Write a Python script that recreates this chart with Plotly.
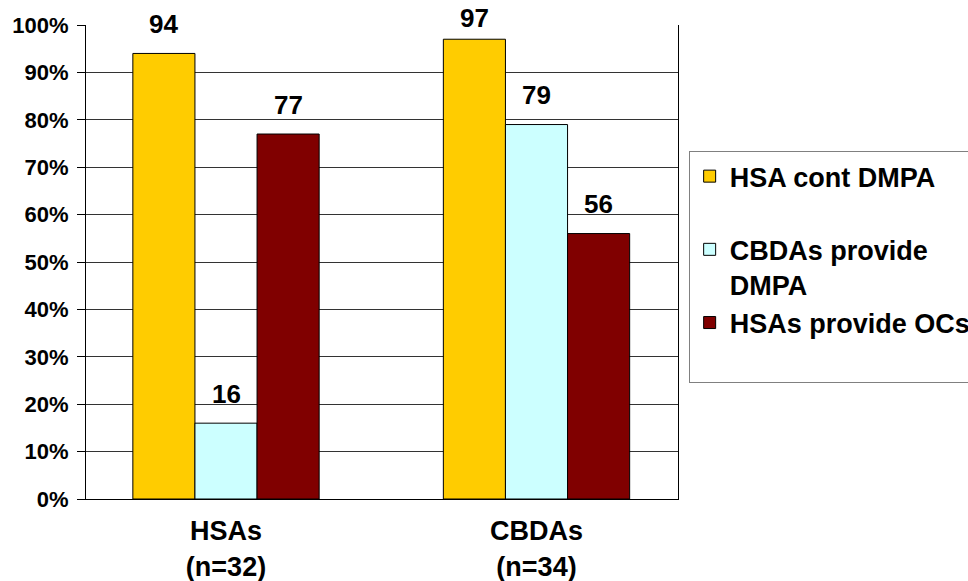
import plotly.graph_objects as go

# Survey groups and the share of respondents (%) for each indicator
groups = ["HSAs<br>(n=32)", "CBDAs<br>(n=34)"]
series_names = ["HSA cont DMPA", "CBDAs provide<br>DMPA", "HSAs provide OCs"]
hsa_cont_dmpa = [94, 97]
cbdas_provide_dmpa = [16, 79]
hsas_provide_ocs = [77, 56]
series_values = [hsa_cont_dmpa, cbdas_provide_dmpa, hsas_provide_ocs]
series_colors = ["#FFCC00", "#CCFFFF", "#800000"]
y_tick_values = [0, 10, 20, 30, 40, 50, 60, 70, 80, 90, 100]

FONT = "Liberation Sans, Arial, sans-serif"
BAR_W = 0.2
group_pos = list(range(len(groups)))

# plot-area geometry (px) used to keep value labels inside the chart
PLOT_TOP, PLOT_H = 25, 474
LABEL_GAP = 27.5      # label centre above the bar top
LABEL_MIN_Y = 20      # highest allowed label centre

fig = go.Figure()
annotations = []
for j, (name, vals, color) in enumerate(zip(series_names, series_values, series_colors)):
    off = -1.5 * BAR_W + j * BAR_W
    # pad legend labels so the entries sit on the same rows as the boxed key
    legend_name = name if "<br>" in name else name + "<br> "
    fig.add_trace(go.Bar(
        x=group_pos, y=vals, name=legend_name,
        width=BAR_W, offset=off,
        marker=dict(color=color, line=dict(color="#000000", width=1)),
        hoverinfo="y",
    ))
    for gx, v in zip(group_pos, vals):
        bar_top = PLOT_TOP + (100 - v) / 100 * PLOT_H
        centre = max(bar_top - LABEL_GAP, LABEL_MIN_Y)
        annotations.append(dict(
            x=gx + off + BAR_W / 2, y=v, xref="x", yref="y",
            text="<b>%d</b>" % v, showarrow=False,
            yanchor="middle", yshift=(bar_top - centre) + 2,
            font=dict(family=FONT, size=26, color="#000000"),
        ))

fig.update_layout(
    width=968, height=581,
    margin=dict(l=86, r=290, t=25, b=82, autoexpand=False),
    paper_bgcolor="#FFFFFF", plot_bgcolor="#FFFFFF",
    barmode="overlay",
    font=dict(family=FONT, color="#000000"),
    showlegend=True,
    legend=dict(
        x=1.018, y=0.734, xanchor="left", yanchor="top",
        bordercolor="#808080", borderwidth=1, bgcolor="#FFFFFF",
        font=dict(family=FONT, size=27, color="#000000", weight="bold"),
        valign="top", tracegroupgap=0,
    ),
    annotations=annotations,
    xaxis=dict(
        range=[-0.4509, 1.4557],
        tickmode="array", tickvals=group_pos,
        ticktext=["<b>%s</b>" % g for g in groups],
        tickfont=dict(family=FONT, size=27, color="#000000"),
        showgrid=False, zeroline=False,
        showline=True, linecolor="#000000", linewidth=1,
        ticks="", ticklabelstandoff=8,
        fixedrange=True,
    ),
    yaxis=dict(
        range=[0, 100],
        tickmode="array", tickvals=y_tick_values,
        ticktext=["<b>%d%%</b>" % t for t in y_tick_values],
        tickfont=dict(family=FONT, size=22, color="#000000"),
        showgrid=True, gridcolor="#333333", gridwidth=1,
        zeroline=False,
        showline=True, linecolor="#000000", linewidth=1, mirror=True,
        ticks="outside", ticklen=8, tickcolor="#000000",
        ticklabelstandoff=4,
        fixedrange=True,
    ),
)

fig.write_html("out.html")
